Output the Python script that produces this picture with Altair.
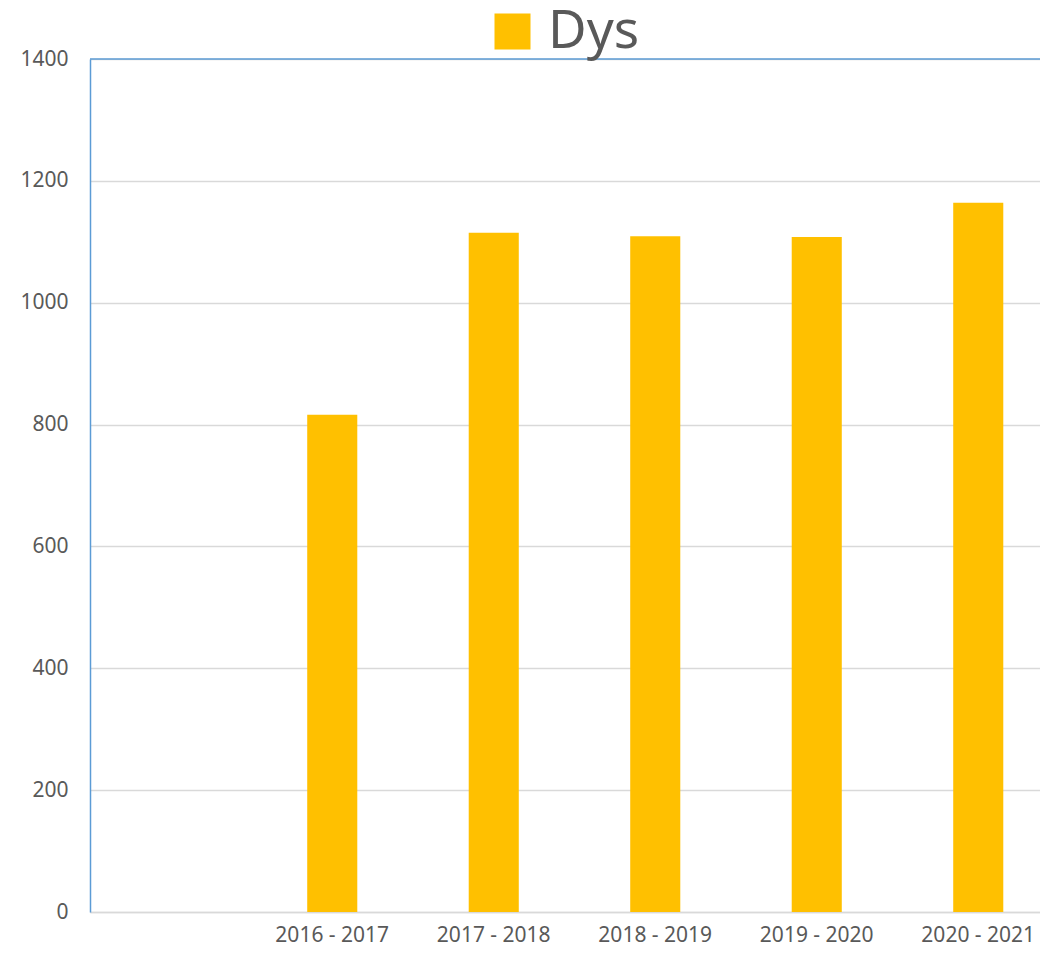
import altair as alt
import pandas as pd

categories = [" ", "2016 - 2017", "2017 - 2018", "2018 - 2019", "2019 - 2020", "2020 - 2021"]
seasons = ["2016 - 2017", "2017 - 2018", "2018 - 2019", "2019 - 2020", "2020 - 2021"]
dys_values = [816, 1115, 1109, 1108, 1164]
series_name = "Dys"
y_ticks = [0, 200, 400, 600, 800, 1000, 1200, 1400]

df = pd.DataFrame({"season": seasons, "value": dys_values, "series": [series_name] * len(seasons)})
top_df = pd.DataFrame({"v": [1400]})

FONT = "Noto Sans"
TXT = "#595959"

bars = alt.Chart(df).mark_bar(color="#FFC000").encode(
    x=alt.X("season:N", scale=alt.Scale(domain=categories, range=[0, 969], paddingInner=0.69, paddingOuter=0.345),
            axis=alt.Axis(title=None, labelAngle=0, ticks=False, labelFontSize=21, labelColor=TXT,
                          labelFont=FONT, labelPadding=12, domainColor="#D9D9D9", domainWidth=1.5,
                          grid=False)),
    y=alt.Y("value:Q", scale=alt.Scale(domain=[0, 1400], nice=False),
            axis=alt.Axis(title=None, values=y_ticks, format="d", ticks=False, labelFontSize=21, labelColor=TXT,
                          labelFont=FONT, labelPadding=22, domainColor="#5B9BD5", domainWidth=1.5,
                          gridColor="#D9D9D9", gridWidth=1.3)),
    color=alt.Color("series:N", scale=alt.Scale(range=["#FFC000"]),
                    legend=alt.Legend(title=None, orient="none", legendX=396, legendY=-54,
                                      symbolType="square", symbolSize=1296, symbolStrokeWidth=0,
                                      labelFontSize=53, labelFont=FONT, labelColor=TXT,
                                      labelOffset=9, padding=0)),
)

top_line = alt.Chart(top_df).mark_rule(color="#5B9BD5", strokeWidth=1.5).encode(
    y=alt.Y("v:Q", scale=alt.Scale(domain=[0, 1400], nice=False))
)

chart = alt.layer(bars, top_line).properties(
    width=950, height=853,
    autosize=alt.AutoSizeParams(type="none"),
    padding={"left": 82, "top": 51, "right": 0, "bottom": 35},
    background="white",
).configure_view(stroke=None)

chart.save("out.html", embed_options={"renderer": "svg", "actions": False})
